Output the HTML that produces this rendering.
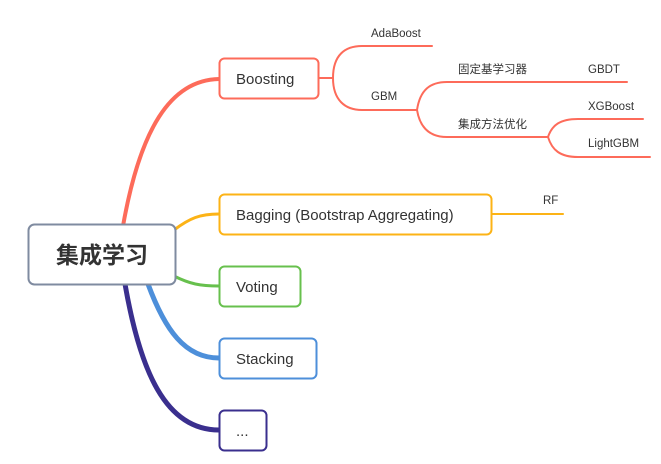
<!DOCTYPE html>
<html><head><meta charset="utf-8"><style>
html,body{margin:0;padding:0;background:#fff;width:661px;height:464px;overflow:hidden}
svg{display:block}
text{font-family:"Liberation Sans","Noto Sans CJK SC",sans-serif;fill:#333}
</style></head><body>
<svg width="661" height="464" viewBox="0 0 661 464">
<g fill="none" stroke-linecap="round">
<path d="M123,226 C140,130 170,80 219,79" stroke="#fd6b5a" stroke-width="4"/>
<path d="M174,230 C190,218 200,214 219,214" stroke="#fcb316" stroke-width="3"/>
<path d="M174,276 C190,284 200,286 219,286" stroke="#67c04d" stroke-width="3"/>
<path d="M148,284 C165,330 185,358 219,358" stroke="#4d8fda" stroke-width="5"/>
<path d="M125,284 C140,370 165,430 219,430" stroke="#3a2f8e" stroke-width="5"/>
<g stroke="#fd6b5a" stroke-width="2">
<path d="M319,78 L333,78"/>
<path d="M333,78 C333,55 345,46 362,46 L432,46"/>
<path d="M333,78 C333,100 345,110 362,110 L417,110"/>
<path d="M417,110 C420,90 430,82 447,82 L627,82"/>
<path d="M417,110 C420,128 430,137 447,137 L548,137"/>
<path d="M548,137 C552,125 560,119 578,119 L643,119"/>
<path d="M548,137 C552,150 560,157 578,157 L650,157"/>
</g>
<path d="M492,214 L563,214" stroke="#fcb316" stroke-width="2"/>
</g>
<rect x="28.5" y="224.5" width="147" height="60" rx="6" fill="#fff" stroke="#7f8ba0" stroke-width="2"/>
<text x="102" y="263" font-size="23" font-weight="bold" text-anchor="middle" fill="#222">集成学习</text>
<rect x="219.5" y="58.5" width="99" height="40" rx="5" fill="#fff" stroke="#fd6b5a" stroke-width="2"/>
<text x="236" y="84" font-size="15">Boosting</text>
<rect x="219.5" y="194.5" width="272" height="40" rx="5" fill="#fff" stroke="#fcb316" stroke-width="2"/>
<text x="236" y="220" font-size="15">Bagging (Bootstrap Aggregating)</text>
<rect x="219.5" y="266.5" width="81" height="40" rx="5" fill="#fff" stroke="#67c04d" stroke-width="2"/>
<text x="236" y="292" font-size="15">Voting</text>
<rect x="219.5" y="338.5" width="97" height="40" rx="5" fill="#fff" stroke="#4d8fda" stroke-width="2"/>
<text x="236" y="364" font-size="15">Stacking</text>
<rect x="219.5" y="410.5" width="47" height="40" rx="5" fill="#fff" stroke="#3a2f8e" stroke-width="2"/>
<text x="236" y="436" font-size="15">...</text>
<g font-size="11.5" style="fill:#444">
<text x="371" y="37" fill="#444">AdaBoost</text>
<text x="371" y="100" fill="#444">GBM</text>
<text x="458" y="73" fill="#444">固定基学习器</text>
<text x="588" y="73" fill="#444">GBDT</text>
<text x="458" y="128" fill="#444">集成方法优化</text>
<text x="588" y="110" fill="#444">XGBoost</text>
<text x="588" y="147" fill="#444">LightGBM</text>
<text x="543" y="204" fill="#444">RF</text>
</g>
</svg>
</body></html>
